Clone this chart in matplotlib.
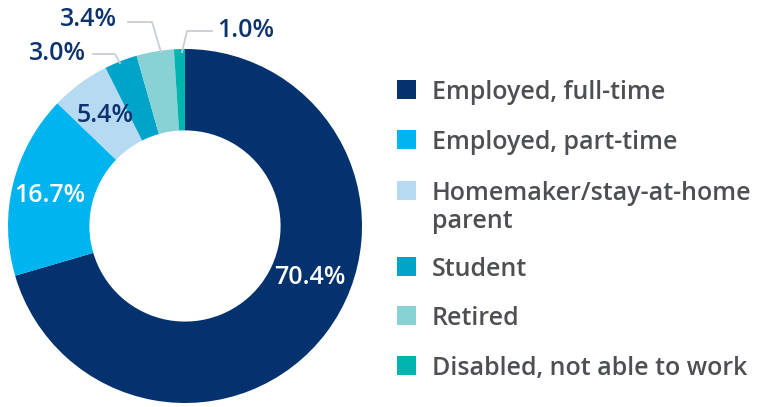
import matplotlib
matplotlib.use("Agg")
import matplotlib.pyplot as plt
from matplotlib.patches import Rectangle

categories = ["Employed, full-time", "Employed, part-time",
              "Homemaker/stay-at-home\nparent", "Student", "Retired",
              "Disabled, not able to work"]
values = [70.4, 16.7, 5.4, 3.0, 3.4, 1.0]
labels = ["70.4%", "16.7%", "5.4%", "3.0%", "3.4%", "1.0%"]
colors = ["#04326e", "#00b5ef", "#b5daf1", "#00a4c9", "#88d1d4", "#00b5ad"]

W, H = 761, 407
fig = plt.figure(figsize=(W / 100, H / 100), dpi=100)
cx, cy, R = 185, 226, 177
ax = fig.add_axes([(cx - R) / W, (H - cy - R) / H, 2 * R / W, 2 * R / H])
wedges, _ = ax.pie(values, colors=colors, startangle=90, counterclock=False,
                   radius=1, wedgeprops=dict(width=0.46, linewidth=0))
ax.set_xlim(-1, 1)
ax.set_ylim(-1, 1)
ax.set_aspect("equal")
ax.axis("off")

font = "Open Sans"
navy = "#0c3370"
fs = 18

def px(x, y):
    return ((x - cx) / R, (cy - y) / R)

label_pos = [(310, 278), (50, 196), (105, 115), (57, 54), (88, 19), (246, 30.5)]
label_col = ["white", "white", navy, navy, navy, navy]
for lab, pos, col in zip(labels, label_pos, label_col):
    ax.text(*px(*pos), lab, color=col, fontsize=fs, fontweight="semibold",
            family=font, ha="center", va="center", clip_on=False)

lc = "#c9ced3"
for pts in ([(93, 54), (115, 54), (120, 63)],
            [(128, 22), (152, 22), (161, 52)],
            [(212, 31), (187, 31), (182, 52)]):
    xs, ys = zip(*[px(*p) for p in pts])
    ax.plot(xs, ys, color=lc, lw=1.3, clip_on=False)

# legend
sq_top = [80, 130, 181, 257, 306, 356]
for cat, col, y in zip(categories, colors, sq_top):
    fig.add_artist(Rectangle((397 / W, (H - y - 19) / H), 19 / W, 19 / H,
                             transform=fig.transFigure, facecolor=col, edgecolor="none"))
    for i, line in enumerate(cat.split("\n")):
        fig.text(432 / W, (H - (y + 19 + 28 * i)) / H, line, color="#4d4f53",
                 fontsize=fs, fontweight="semibold", family=font,
                 ha="left", va="baseline")

fig.savefig("out.png", dpi=100)
